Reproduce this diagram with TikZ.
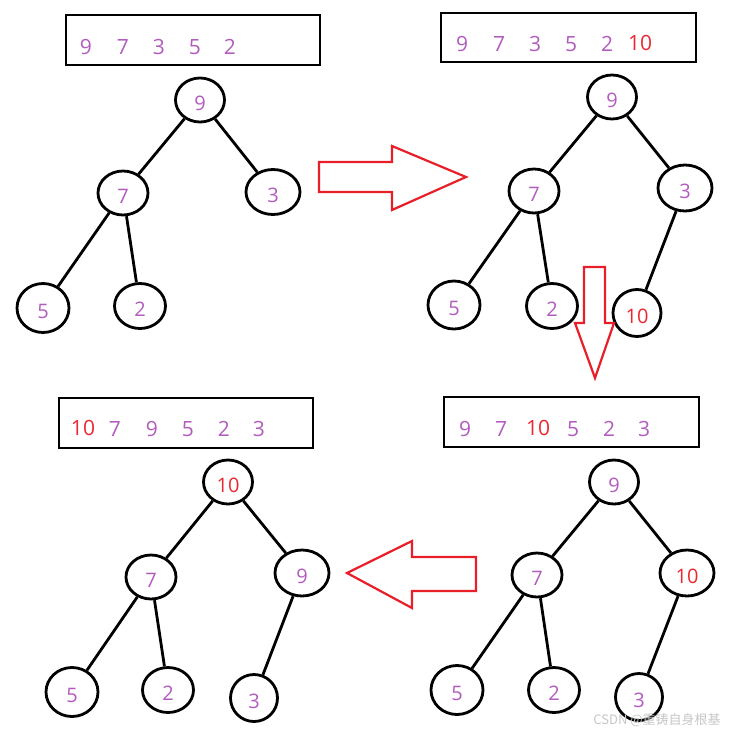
\documentclass[tikz,border=0pt]{standalone}
\usepackage{fontspec}
\setmainfont{Open Sans}
\newfontfamily\cjk{Noto Sans CJK SC}
\usetikzlibrary{shapes.geometric}
\definecolor{pur}{RGB}{178,92,190}
\definecolor{rd}{RGB}{236,40,50}
\definecolor{ar}{RGB}{232,30,40}
\tikzset{
  hn/.style={draw=black, line width=2.8pt, ellipse, inner sep=0pt, text=pur, font=\fontsize{20}{20}\selectfont, text height=21pt, text depth=0pt},
  rn/.style={hn, text=rd},
  edge/.style={line width=2.8pt, draw=black},
  arr/.style={draw=ar, line width=2.2pt, line join=miter},
  abox/.style={draw=black, line width=2.8pt},
  dg/.style={text=pur, font=\fontsize{21}{21}\selectfont, inner sep=0pt},
  rdg/.style={dg, text=rd},
}
\begin{document}
\begin{tikzpicture}[x=1pt,y=-1pt]
\useasboundingbox (0,0) rectangle (733,731);
\fill[white] (0,0) rectangle (733,731);

% ---------- Panel 1 ----------
\node[abox, minimum width=254pt, minimum height=50pt, inner sep=0pt] (b1) at (193,40) {};
\node[dg] (b1a) at (86,47) {9};
\node[dg] (b1b) at (123,47) {7};
\node[dg] (b1c) at (159,47) {3};
\node[dg] (b1d) at (195,47) {5};
\node[dg] (b1e) at (230,47) {2};
\node[hn, minimum width=49pt, minimum height=44pt] (p1n9) at (200,100) {9};
\node[hn, minimum width=50pt, minimum height=44pt] (p1n7) at (123,193) {7};
\node[hn, minimum width=54pt, minimum height=45pt] (p1n3) at (273,192) {3};
\node[hn, minimum width=52pt, minimum height=49pt] (p1n5) at (43,308) {5};
\node[hn, minimum width=51pt, minimum height=45pt] (p1n2) at (140,306) {2};
\draw[edge] (p1n9) -- (p1n7);
\draw[edge] (p1n9) -- (p1n3);
\draw[edge] (p1n7) -- (p1n5);
\draw[edge] (p1n7) -- (p1n2);

% right arrow
\draw[arr] (319,162) -- (392,162) -- (392,146) -- (466,177) -- (392,210) -- (392,192) -- (319,192) -- cycle;

% ---------- Panel 2 ----------
\node[abox, minimum width=255pt, minimum height=49pt, inner sep=0pt] (b2) at (568.5,37.5) {};
\node[dg] (b2a) at (462,44) {9};
\node[dg] (b2b) at (499,44) {7};
\node[dg] (b2c) at (535,44) {3};
\node[dg] (b2d) at (571,44) {5};
\node[dg] (b2e) at (607,44) {2};
\node[rdg] (b2f) at (640,43) {10};
\node[hn, minimum width=49pt, minimum height=44pt] (p2n9) at (612,97) {9};
\node[hn, minimum width=50pt, minimum height=44pt] (p2n7) at (534,191) {7};
\node[hn, minimum width=54pt, minimum height=46pt] (p2n3) at (685,188) {3};
\node[hn, minimum width=52pt, minimum height=48pt] (p2n5) at (454,305) {5};
\node[hn, minimum width=51pt, minimum height=45pt] (p2n2) at (552,306) {2};
\node[rn, minimum width=48pt, minimum height=47pt] (p2n10) at (637,313) {10};
\draw[edge] (p2n9) -- (p2n7);
\draw[edge] (p2n9) -- (p2n3);
\draw[edge] (p2n7) -- (p2n5);
\draw[edge] (p2n7) -- (p2n2);
\draw[edge] (p2n3) -- (p2n10);

% down arrow
\draw[arr] (584,267) -- (605,267) -- (605,323) -- (614,323) -- (595,378) -- (575,323) -- (584,323) -- cycle;

% ---------- Panel 3 ----------
\node[abox, minimum width=254pt, minimum height=50pt, inner sep=0pt] (b3) at (186,423) {};
\node[rdg] (b3a) at (83,428) {10};
\node[dg] (b3b) at (115,429) {7};
\node[dg] (b3c) at (152,429) {9};
\node[dg] (b3d) at (188,429) {5};
\node[dg] (b3e) at (224,429) {2};
\node[dg] (b3f) at (259,429) {3};
\node[rn, minimum width=49pt, minimum height=44pt] (p3n10) at (228,482) {10};
\node[hn, minimum width=50pt, minimum height=44pt] (p3n7) at (151,577) {7};
\node[hn, minimum width=54pt, minimum height=46pt] (p3n9) at (302,573) {9};
\node[hn, minimum width=52pt, minimum height=49pt] (p3n5) at (72,692) {5};
\node[hn, minimum width=51pt, minimum height=45pt] (p3n2) at (168,690) {2};
\node[hn, minimum width=47pt, minimum height=47pt] (p3n3) at (254,698) {3};
\draw[edge] (p3n10) -- (p3n7);
\draw[edge] (p3n10) -- (p3n9);
\draw[edge] (p3n7) -- (p3n5);
\draw[edge] (p3n7) -- (p3n2);
\draw[edge] (p3n9) -- (p3n3);

% left arrow
\draw[arr] (347,573) -- (412,541) -- (412,557) -- (476,557) -- (476,591) -- (412,591) -- (412,608) -- cycle;

% ---------- Panel 4 ----------
\node[abox, minimum width=255pt, minimum height=50pt, inner sep=0pt] (b4) at (571.5,422) {};
\node[dg] (b4a) at (465,429) {9};
\node[dg] (b4b) at (501,429) {7};
\node[rdg] (b4c) at (538,428) {10};
\node[dg] (b4d) at (573,429) {5};
\node[dg] (b4e) at (609,429) {2};
\node[dg] (b4f) at (644,429) {3};
\node[hn, minimum width=49pt, minimum height=44pt] (p4n9) at (614,482) {9};
\node[hn, minimum width=50pt, minimum height=44pt] (p4n7) at (537,575) {7};
\node[rn, minimum width=54pt, minimum height=46pt] (p4n10) at (687,573) {10};
\node[hn, minimum width=52pt, minimum height=49pt] (p4n5) at (457,690) {5};
\node[hn, minimum width=51pt, minimum height=45pt] (p4n2) at (554,690) {2};
\node[hn, minimum width=47pt, minimum height=47pt] (p4n3) at (639,697) {3};
\draw[edge] (p4n9) -- (p4n7);
\draw[edge] (p4n9) -- (p4n10);
\draw[edge] (p4n7) -- (p4n5);
\draw[edge] (p4n7) -- (p4n2);
\draw[edge] (p4n10) -- (p4n3);

% watermark
\node[text=black!22, font=\cjk\fontsize{13}{13}\selectfont, inner sep=0pt] (wm) at (657,720) {CSDN @重铸自身根基};
\end{tikzpicture}
\end{document}
